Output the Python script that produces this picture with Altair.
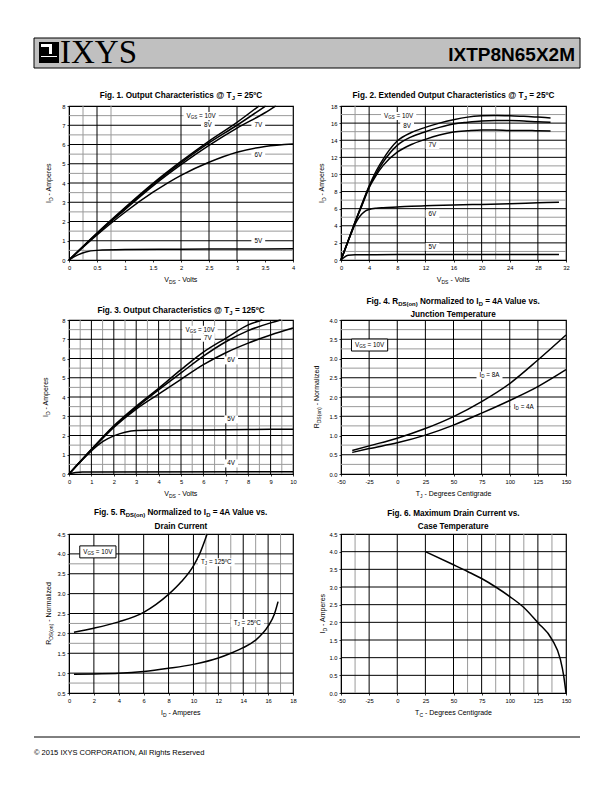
import re
import altair as alt
import pandas as pd

SANS = "Liberation Sans"
SERIF = "Liberation Serif"
GRAY = "#9a9a9a"

# ---------------- data ----------------
# Fig 1  (VDS volts, ID amperes) @ 25C
f1_x_10v = [0, 0.5, 1, 1.5, 2, 2.5, 3, 3.39]
f1_y_10v = [0, 1.4, 2.72, 3.98, 5.12, 6.18, 7.15, 8.0]
f1_x_8v = [0, 0.5, 1, 1.5, 2, 2.5, 3, 3.51]
f1_y_8v = [0, 1.38, 2.68, 3.93, 5.05, 6.08, 7.0, 8.0]
f1_x_7v = [0, 0.5, 1, 1.5, 2, 2.5, 3, 3.5, 3.69]
f1_y_7v = [0, 1.36, 2.62, 3.85, 4.95, 5.95, 6.85, 7.65, 8.0]
f1_x_6v = [0, 0.5, 1, 1.5, 2, 2.5, 3, 3.5, 4]
f1_y_6v = [0, 1.3, 2.48, 3.52, 4.4, 5.08, 5.6, 5.9, 6.03]
f1_x_5v = [0, 0.15, 0.3, 0.5, 1, 2, 3, 4]
f1_y_5v = [0, 0.25, 0.42, 0.5, 0.54, 0.56, 0.57, 0.58]

# Fig 2  extended output @ 25C
f2_x_top = [0, 1, 2, 3, 4, 5, 6, 8, 10, 12, 14, 16, 18, 20, 22, 24, 26, 28, 29.8]
f2_y_10v = [0, 2.2, 4.4, 6.6, 8.65, 10.4, 11.8, 13.9, 14.9, 15.5, 16.0, 16.4, 16.7, 16.85, 16.9, 16.85, 16.8, 16.7, 16.6]
f2_y_8v = [0, 2.2, 4.4, 6.5, 8.55, 10.1, 11.45, 13.4, 14.4, 15.0, 15.5, 15.9, 16.1, 16.25, 16.3, 16.3, 16.25, 16.15, 16.1]
f2_y_7v = [0, 2.2, 4.4, 6.4, 8.45, 9.9, 11.06, 12.6, 13.5, 14.1, 14.6, 14.95, 15.1, 15.2, 15.2, 15.15, 15.15, 15.1, 15.08]
f2_x_6v = [0, 0.5, 1, 1.5, 2, 2.5, 3, 3.5, 4, 5, 6, 8, 12, 16, 20, 24, 28, 31]
f2_y_6v = [0, 1.1, 2.2, 3.2, 4.2, 4.9, 5.4, 5.75, 5.9, 6.05, 6.12, 6.2, 6.35, 6.42, 6.5, 6.58, 6.68, 6.75]
f2_x_5v = [0, 0.5, 1, 2, 8, 16, 24, 31]
f2_y_5v = [0, 0.35, 0.55, 0.62, 0.63, 0.64, 0.65, 0.65]

# Fig 3  output @ 125C
f3_x_10v = [0, 1, 2, 3, 4, 5, 6, 7, 8, 8.63]
f3_y_10v = [0, 1.28, 2.5, 3.52, 4.45, 5.42, 6.33, 7.05, 7.75, 8.0]
f3_x_7v = [0, 1, 2, 3, 4, 5, 6, 7, 8, 9, 9.45]
f3_y_7v = [0, 1.27, 2.47, 3.45, 4.37, 5.25, 6.12, 6.87, 7.45, 7.85, 8.0]
f3_x_6v = [0, 1, 2, 3, 4, 5, 6, 7, 8, 9, 10]
f3_y_6v = [0, 1.25, 2.42, 3.37, 4.15, 4.92, 5.68, 6.3, 6.8, 7.22, 7.58]
f3_x_5v = [0, 1, 1.5, 2, 2.5, 3, 4, 6, 8, 10]
f3_y_5v = [0, 1.2, 1.68, 1.98, 2.17, 2.26, 2.28, 2.29, 2.31, 2.33]
f3_x_4v = [0, 0.3, 0.6, 1, 10]
f3_y_4v = [0, 0.08, 0.1, 0.1, 0.12]

# Fig 4  RDS(on) vs junction temperature
f4_t = [-40, -25, 0, 25, 50, 75, 100, 125, 150]
f4_r_8a = [0.61, 0.73, 0.93, 1.18, 1.49, 1.88, 2.35, 2.96, 3.61]
f4_r_4a = [0.56, 0.66, 0.81, 1.01, 1.27, 1.58, 1.91, 2.27, 2.71]

# Fig 5  RDS(on) vs drain current
f5_i_125 = [0.4, 2, 4, 6, 7, 8, 9, 10, 10.5, 11.1]
f5_r_125 = [2.03, 2.13, 2.29, 2.53, 2.73, 2.98, 3.29, 3.7, 4.0, 4.5]
f5_i_25 = [0.4, 2, 4, 6, 8, 10, 12, 13, 14, 15, 16, 16.5, 16.8]
f5_r_25 = [0.97, 0.98, 0.995, 1.04, 1.12, 1.22, 1.38, 1.5, 1.64, 1.83, 2.18, 2.48, 2.8]

# Fig 6  max drain current vs case temperature
f6_t = [25, 50, 62.5, 75, 87.5, 100, 112.5, 125, 137.5, 145, 148, 150]
f6_i = [4.0, 3.63, 3.44, 3.24, 3.0, 2.73, 2.42, 1.99, 1.52, 0.95, 0.48, 0.0]

# tick labels
f1_xt = [0, 0.5, 1, 1.5, 2, 2.5, 3, 3.5, 4]
f1_yt = [0, 1, 2, 3, 4, 5, 6, 7, 8]
f2_xt = [0, 4, 8, 12, 16, 20, 24, 28, 32]
f2_yt = [0, 2, 4, 6, 8, 10, 12, 14, 16, 18]
f3_xt = [0, 1, 2, 3, 4, 5, 6, 7, 8, 9, 10]
f3_yt = [0, 1, 2, 3, 4, 5, 6, 7, 8]
f4_xt = [-50, -25, 0, 25, 50, 75, 100, 125, 150]
f4_yt = [0.0, 0.5, 1.0, 1.5, 2.0, 2.5, 3.0, 3.5, 4.0]
f5_xt = [0, 2, 4, 6, 8, 10, 12, 14, 16, 18]
f5_yt = [0.5, 1.0, 1.5, 2.0, 2.5, 3.0, 3.5, 4.0, 4.5]
f6_xt = [-50, -25, 0, 25, 50, 75, 100, 125, 150]
f6_yt = [0.0, 0.5, 1.0, 1.5, 2.0, 2.5, 3.0, 3.5, 4.0, 4.5]

# grid lines (black = major, gray = minor)
f1_vmaj = [0.5, 2, 2.5, 3]
f1_vmin = [0.25, 0.75]
f1_hmaj = [1, 2, 3, 4, 5, 6, 7]
f1_hmin = [0.5, 1.5, 2.5, 3.5, 4.5, 5.5, 6.5, 7.5]
f2_vmaj = [4, 8, 12, 16, 20, 24, 28]
f2_vmin = [2, 18, 22]
f2_hmaj = [2, 4, 6, 8, 10, 12, 14, 16]
f2_hmin = [1, 3, 5, 7, 9, 11, 13, 15, 17]
f3_vmaj = [1, 2, 3, 4, 5, 6, 7, 8, 9]
f3_vmin = [0.5, 1.5, 2.5, 3.5, 4.5, 5.5, 6.5, 7.5, 8.5, 9.5]
f3_hmaj = [1, 2, 3, 4, 5, 6, 7]
f3_hmin = [0.5, 1.5, 2.5, 3.5, 4.5, 5.5, 6.5, 7.5]
f4_vmaj = [-25, 0, 25, 50, 75, 100, 125]
f4_vmin = []
f4_hmaj = [0.5, 1.0, 1.5, 2.0, 2.5, 3.0, 3.5]
f4_hmin = [0.25, 0.75, 1.25, 1.75, 2.25, 2.75, 3.25, 3.75]
f5_vmaj = [2, 4, 6, 8, 10, 12, 14, 16]
f5_vmin = [11, 13, 15, 17]
f5_hmaj = [1.0, 1.5, 2.0, 2.5, 3.0, 3.5, 4.0]
f5_hmin = [0.75, 1.75, 2.25, 3.75]
f6_vmaj = [-25, 0, 25, 50, 75, 100, 125]
f6_vmin = [-37.5, 62.5, 87.5, 112.5, 137.5]
f6_hmaj = [0.5, 1.0, 1.5, 2.0, 2.5, 3.0, 3.5, 4.0]
f6_hmin = []

# curve labels (text, x, y in data units)
f1_lab_text = ["V_{GS} = 10V", "8V", "7V", "6V", "5V"]
f1_lab_x = [2.36, 2.48, 3.38, 3.38, 3.38]
f1_lab_y = [7.48, 7.0, 7.0, 5.48, 0.98]
f2_lab_text = ["V_{GS} = 10V", "8V", "7V", "6V", "5V"]
f2_lab_x = [8.2, 9.4, 13.0, 13.0, 13.0]
f2_lab_y = [16.83, 15.65, 13.45, 5.4, 1.52]
f3_lab_text = ["V_{GS} = 10V", "7V", "6V", "5V", "4V"]
f3_lab_x = [5.85, 6.2, 7.24, 7.24, 7.24]
f3_lab_y = [7.5, 7.08, 5.9, 2.84, 0.55]
f4_lab_text = ["I_{D} = 8A", "I_{D} = 4A"]
f4_lab_x = [82, 112.5]
f4_lab_y = [2.56, 1.75]
f5_lab_text = ["T_{J} = 125ºC", "T_{J} = 25ºC"]
f5_lab_x = [11.84, 14.33]
f5_lab_y = [3.79, 2.26]
# framed condition boxes
f4_box_text = ["V_{GS} = 10V"]
f4_box_x = [-24.6]
f4_box_y = [3.35]
f5_box_text = ["V_{GS} = 10V"]
f5_box_x = [2.32]
f5_box_y = [4.05]

# page texts
part_number = "IXTP8N65X2M"
brand = "IXYS"
copyright_text = "© 2015 IXYS CORPORATION, All Rights Reserved"

# ---------------- text helpers ----------------
REG = {}
for chars, wd in [(" ", 278), ("!,.:/", 278), ("()-", 333), ("0123456789", 556), ("=", 584),
                  ("@", 1015), ("º", 365), ("°", 400), ("©", 737),
                  ("ABEKPSVXY", 667), ("CDHNRU", 722), ("FTZ", 611), ("GOQ", 778), ("I", 278),
                  ("J", 500), ("L", 556), ("M", 833), ("W", 944),
                  ("abdeghnopqu", 556), ("cksvxyz", 500), ("ft", 278), ("ijl", 222), ("m", 833),
                  ("r", 333), ("w", 722)]:
    for c in chars:
        REG[c] = wd
BOLD = {}
for chars, wd in [(" ", 278), ("!,.:/", 278), ("()-", 333), ("0123456789", 556), ("=", 584),
                  ("@", 975), ("º", 365), ("°", 400),
                  ("ABCDHKNRU", 722), ("EPSVXY", 667), ("FLTZ", 611), ("GOQ", 778), ("I", 278),
                  ("J", 556), ("M", 833), ("W", 944),
                  ("aceksvxy", 556), ("bdghnopqu", 611), ("ft", 333), ("ijl", 278), ("m", 889),
                  ("r", 389), ("w", 778), ("z", 500)]:
    for c in chars:
        BOLD[c] = wd

ONE = pd.DataFrame({"k": [0]})
SUB = 0.72


def tw(s, fs, table):
    return sum(table.get(c, 556) for c in s) / 1000.0 * fs


def parse(s):
    parts, pos = [], 0
    for m in re.finditer(r"_\{([^}]*)\}", s):
        if m.start() > pos:
            parts.append((s[pos:m.start()], False))
        parts.append((m.group(1), True))
        pos = m.end()
    if pos < len(s):
        parts.append((s[pos:], False))
    return parts


def text_width(s, fs, bold=False):
    table = BOLD if bold else REG
    return sum(tw(t, fs * (SUB if sb else 1), table) for t, sb in parse(s))


def rich(s, fs, xenc, yenc, data=None, align="center", angle=0, bold=False, baseline="alphabetic"):
    table = BOLD if bold else REG
    parts = parse(s)
    ws = [tw(t, fs * (SUB if sb else 1), table) for t, sb in parts]
    W = sum(ws)
    off = {"center": -W / 2, "left": 0, "right": -W}[align]
    out = []
    src = ONE if data is None else data
    for (t, sb), w in zip(parts, ws):
        pfs = fs * (SUB if sb else 1)
        lead = len(t) - len(t.lstrip(" "))
        shown = t.strip(" ")
        if shown:
            extra = {}
            if angle:
                extra["angle"] = angle
            out.append(
                alt.Chart(src).mark_text(
                    text=shown, align="left", baseline=baseline, font=SANS,
                    fontSize=pfs, fontWeight="bold" if bold else "normal",
                    color="black", dx=off + tw(" " * lead, pfs, table), dy=(fs * 0.3 if sb else 0), **extra
                ).encode(x=xenc, y=yenc)
            )
        off += w
    return out


def box_path(w, h):
    return f"M{-w/2:.1f},{-h/2:.1f}H{w/2:.1f}V{h/2:.1f}H{-w/2:.1f}Z"


MINUS_FIX = "replace(datum.label, '\u2212', '-')"


def panel(w, h, xdom, ydom, xticks, yticks, xfmt, yfmt, curves, grids, labels, boxes,
          titles, xtitle, ytitle, ytitle_x, extra_layers=()):
    sx = alt.Scale(domain=xdom, nice=False, zero=False)
    sy = alt.Scale(domain=ydom, nice=False, zero=False)
    ax = alt.Axis(values=xticks, format=xfmt, title=None, labelFlush=False, labelOverlap=False,
                  labelExpr=MINUS_FIX)
    ay = alt.Axis(values=yticks, format=yfmt, title=None, labelOverlap=False)
    X = lambda f: alt.X(f, scale=sx, axis=ax)
    Y = lambda f: alt.Y(f, scale=sy, axis=ay)
    vmaj, vmin, hmaj, hmin = grids
    L = list(extra_layers)
    for vals, col, ch in [(vmin, GRAY, "x"), (hmin, GRAY, "y"), (vmaj, "black", "x"), (hmaj, "black", "y")]:
        if not vals:
            continue
        df = pd.DataFrame({"v": vals})
        enc = {"x": X("v:Q")} if ch == "x" else {"y": Y("v:Q")}
        L.append(alt.Chart(df).mark_rule(color=col, strokeWidth=1).encode(**enc))
    rows = []
    for name, xs, ys in curves:
        for i, (a, b) in enumerate(zip(xs, ys)):
            rows.append({"s": name, "v": a, "u": b, "o": i})
    L.append(
        alt.Chart(pd.DataFrame(rows)).mark_line(color="black", strokeWidth=1.5, interpolate="monotone").encode(
            x=X("v:Q"), y=Y("u:Q"), detail="s:N", order="o:Q",
        )
    )
    LFS = 6.3
    for txt, lx, ly in labels:
        d = pd.DataFrame({"v": [lx], "u": [ly], "p": [box_path(text_width(txt, LFS) + 6, 8)]})
        L.append(alt.Chart(d).mark_point(filled=True, color="white", size=4, opacity=1, strokeWidth=0).encode(
            x=X("v:Q"), y=Y("u:Q"), shape=alt.Shape("p:N", scale=None)))
        L += rich(txt, LFS, X("v:Q"), Y("u:Q"), data=d, baseline="middle")
    for txt, lx, ly in boxes:
        d = pd.DataFrame({"v": [lx], "u": [ly], "p": [box_path(text_width(txt, LFS) + 7, 12)]})
        L.append(alt.Chart(d).mark_point(filled=True, color="white", stroke="black", size=4, opacity=1,
                                         strokeWidth=1).encode(
            x=X("v:Q"), y=Y("u:Q"), shape=alt.Shape("p:N", scale=None)))
        L += rich(txt, LFS, X("v:Q"), Y("u:Q"), data=d, baseline="middle")
    for txt, ty in titles:
        L += rich(txt, 8.2, alt.value(w / 2), alt.value(ty), bold=True)
    L += rich(xtitle, 7, alt.value(w / 2), alt.value(h + 22))
    L += rich(ytitle, 7, alt.value(ytitle_x), alt.value(h / 2), angle=270)
    return alt.layer(*L).properties(width=w, height=h)


def prect(x1, x2, y1, y2, fill):
    return alt.Chart(ONE).mark_rect(fill=fill).encode(
        x=alt.value(x1), x2=alt.value(x2), y=alt.value(y1), y2=alt.value(y2))


# header (drawn relative to panel 1 origin) and footer (relative to panel 5 origin)
header_layers = [
    alt.Chart(ONE).mark_rect(fill="#c0c0c0", stroke="black", strokeWidth=1).encode(
        x=alt.value(-35), x2=alt.value(511), y=alt.value(-68), y2=alt.value(-38)),
    # logo square
    prect(-30, -10, -64, -43, "black"),
    prect(-28, -17, -62, -52, "white"),
    prect(-28, -20, -59, -52, "black"),
    prect(-28, -12, -50, -49, "white"),
    alt.Chart(ONE).mark_text(text=brand, font=SERIF, fontSize=33, align="left", baseline="alphabetic",
                             color="black").encode(x=alt.value(-9), y=alt.value(-43)),
    alt.Chart(ONE).mark_text(text=part_number, font=SANS, fontWeight="bold", fontSize=19, align="right",
                             baseline="alphabetic", color="black").encode(x=alt.value(506), y=alt.value(-45)),
]
footer_layers = [
    alt.Chart(ONE).mark_rule(color="black", strokeWidth=1).encode(
        x=alt.value(-35), x2=alt.value(511), y=alt.value(203)),
    alt.Chart(ONE).mark_text(text=copyright_text, font=SANS, fontSize=7.5,
                             align="left", baseline="alphabetic", color="black").encode(
        x=alt.value(-35), y=alt.value(221)),
]

p1 = panel(224, 154, [0, 4], [0, 8], f1_xt, f1_yt, "~f", "~f",
           [("10V", f1_x_10v, f1_y_10v), ("8V", f1_x_8v, f1_y_8v), ("7V", f1_x_7v, f1_y_7v),
            ("6V", f1_x_6v, f1_y_6v), ("5V", f1_x_5v, f1_y_5v)],
           (f1_vmaj, f1_vmin, f1_hmaj, f1_hmin),
           list(zip(f1_lab_text, f1_lab_x, f1_lab_y)), [],
           [("Fig. 1. Output Characteristics @ T_{J} = 25ºC", -8.5)],
           "V_{DS} - Volts", "I_{D} - Amperes", -18.5, header_layers)
p2 = panel(225, 154, [0, 32], [0, 18], f2_xt, f2_yt, "~f", "~f",
           [("10V", f2_x_top, f2_y_10v), ("8V", f2_x_top, f2_y_8v), ("7V", f2_x_top, f2_y_7v),
            ("6V", f2_x_6v, f2_y_6v), ("5V", f2_x_5v, f2_y_5v)],
           (f2_vmaj, f2_vmin, f2_hmaj, f2_hmin),
           list(zip(f2_lab_text, f2_lab_x, f2_lab_y)), [],
           [("Fig. 2. Extended Output Characteristics @ T_{J} = 25ºC", -8.5)],
           "V_{DS} - Volts", "I_{D} - Amperes", -17.5)
p3 = panel(224, 154, [0, 10], [0, 8], f3_xt, f3_yt, "~f", "~f",
           [("10V", f3_x_10v, f3_y_10v), ("7V", f3_x_7v, f3_y_7v), ("6V", f3_x_6v, f3_y_6v),
            ("5V", f3_x_5v, f3_y_5v), ("4V", f3_x_4v, f3_y_4v)],
           (f3_vmaj, f3_vmin, f3_hmaj, f3_hmin),
           list(zip(f3_lab_text, f3_lab_x, f3_lab_y)), [],
           [("Fig. 3. Output Characteristics @ T_{J} = 125ºC", -7.5)],
           "V_{DS} - Volts", "I_{D} - Amperes", -21)
p4 = panel(225, 154, [-50, 150], [0, 4], f4_xt, f4_yt, "d", ".1f",
           [("8A", f4_t, f4_r_8a), ("4A", f4_t, f4_r_4a)],
           (f4_vmaj, f4_vmin, f4_hmaj, f4_hmin),
           list(zip(f4_lab_text, f4_lab_x, f4_lab_y)), list(zip(f4_box_text, f4_box_x, f4_box_y)),
           [("Fig. 4. R_{DS(on)} Normalized to I_{D} = 4A Value vs.", -16), ("Junction Temperature", -3)],
           "T_{J} - Degrees Centigrade", "R_{DS(on)} - Normalized", -22)
p5 = panel(224, 159, [0, 18], [0.5, 4.5], f5_xt, f5_yt, "d", ".1f",
           [("125C", f5_i_125, f5_r_125), ("25C", f5_i_25, f5_r_25)],
           (f5_vmaj, f5_vmin, f5_hmaj, f5_hmin),
           list(zip(f5_lab_text, f5_lab_x, f5_lab_y)), list(zip(f5_box_text, f5_box_x, f5_box_y)),
           [("Fig. 5. R_{DS(on)} Normalized to I_{D} = 4A Value vs.", -19), ("Drain Current", -5)],
           "I_{D} - Amperes", "R_{DS(on)} - Normalized", -18, footer_layers)
p6 = panel(225, 159, [-50, 150], [0, 4.5], f6_xt, f6_yt, "d", ".1f",
           [("ID", f6_t, f6_i)],
           (f6_vmaj, f6_vmin, f6_hmaj, f6_hmin),
           [], [],
           [("Fig. 6. Maximum Drain Current vs.", -18), ("Case Temperature", -5.5)],
           "T_{C} - Degrees Centigrade", "I_{D} - Amperes", -16.5)

chart = alt.concat(p1, p2, p3, p4, p5, p6, columns=2, spacing={"row": 60, "column": 48},
                   bounds="flush").properties(
    padding={"left": 24, "top": 28, "right": 5, "bottom": 5}
).configure_view(stroke="black", strokeWidth=1.2).configure_axis(
    labelFont=SANS, labelFontSize=5.8, labelColor="black", tickColor="black", tickSize=2,
    tickWidth=0.8, domainColor="black", domainWidth=1, labelPadding=2, grid=False
)

chart.save("out.html", embed_options={"renderer": "svg", "actions": False})
